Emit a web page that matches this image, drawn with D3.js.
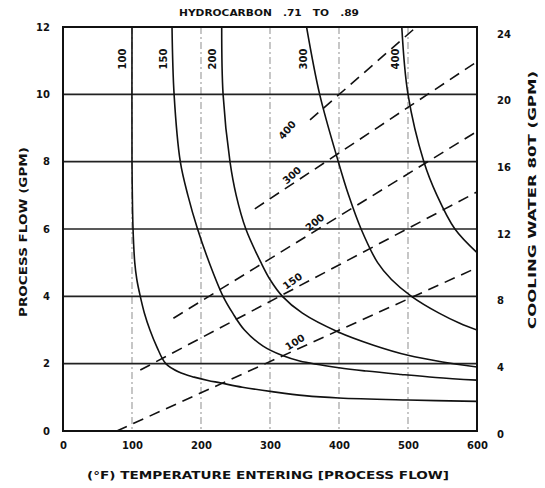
<!DOCTYPE html>
<html>
<head>
<meta charset="utf-8">
<script src="https://cdn.jsdelivr.net/npm/d3@7"></script>
<style>
  body { margin: 0; background: #fff; }
  text { font-family: 'DejaVu Sans', sans-serif; font-weight: bold; fill: #111; }
</style>
</head>
<body>
<svg id="chart" width="545" height="488"></svg>
<script>
// ticks and grid
var xTicks = [0, 100, 200, 300, 400, 500, 600];
var yTicks = [0, 2, 4, 6, 8, 10, 12];
var yRightTicks = [0, 4, 8, 12, 16, 20, 24];
var gridX = [100, 200, 300, 400, 500];
var gridY = [2, 4, 6, 8, 10];

// solid curves: [temperature, process flow]
var curveLabels = ['100', '150', '200', '300', '400'];
var curve100 = [[100, 12], [100, 8], [100.5, 7], [101.5, 6], [104, 5], [107, 4.5], [112, 4], [118, 3.5], [126, 3], [136, 2.5], [149, 2], [168, 1.75], [190, 1.6], [210, 1.5], [228, 1.43], [260, 1.3], [303, 1.17], [350, 1.05], [400, 0.98], [500, 0.92], [600, 0.88]];
var curve150 = [[158, 12], [161, 10], [170, 8], [181, 7], [195, 6], [212, 5], [232, 4], [246, 3.5], [263, 3], [290, 2.52], [318, 2.24], [343, 2.08], [400, 1.88], [440, 1.78], [490, 1.68], [540, 1.59], [600, 1.51]];
var curve200 = [[230, 12], [232, 10], [242, 8], [251, 7], [265, 6], [287, 5], [300, 4.5], [318, 4], [347, 3.5], [398, 2.95], [450, 2.55], [500, 2.25], [550, 2.05], [600, 1.9]];
var curve300 = [[353, 12], [372, 10], [399, 8], [414, 7], [432, 6], [456, 5], [476, 4.5], [505, 4], [545, 3.5], [575, 3.2], [600, 3.0]];
var curve400 = [[491, 12], [500, 10], [523, 8], [542, 7], [568, 6], [600, 5.3]];
var curves = [curve100, curve150, curve200, curve300, curve400];

// dashed lines: [temperature, process flow] end points
var dashLabels = ['100', '150', '200', '300', '400'];
var dash100 = [[78, 0], [600, 4.85]];
var dash150 = [[112, 1.81], [600, 7.1]];
var dash200 = [[160, 3.35], [600, 8.9]];
var dash300 = [[278, 6.6], [600, 10.97]];
var dash400 = [[358, 9.24], [512, 12]];
var dashes = [dash100, dash150, dash200, dash300, dash400];
var dashLabelX = [342, 339, 372, 339, 333];

var svg = d3.select('#chart');
var x = d3.scaleLinear().domain([0, 600]).range([63, 477]);
var y = d3.scaleLinear().domain([0, 12]).range([431, 27]);
var yR = d3.scaleLinear().domain([0, 24]).range([434, 34]);

svg.append('defs').append('clipPath').attr('id', 'plot')
  .append('rect').attr('x', 63).attr('y', 27).attr('width', 414).attr('height', 404);

// grid
svg.append('g').selectAll('line').data(gridX).enter().append('line')
  .attr('x1', function(d) { return x(d); }).attr('x2', function(d) { return x(d); })
  .attr('y1', y(12)).attr('y2', y(0))
  .style('stroke', '#999').style('stroke-width', 1.1).style('stroke-dasharray', '7,3,2,3');

svg.append('g').selectAll('line').data(gridY).enter().append('line')
  .attr('x1', x(0)).attr('x2', x(600))
  .attr('y1', function(d) { return y(d); }).attr('y2', function(d) { return y(d); })
  .style('stroke', '#222').style('stroke-width', 1.6);

var plot = svg.append('g').attr('clip-path', 'url(#plot)');

// solid curves
var line = d3.line()
  .x(function(d) { return x(d[0]); })
  .y(function(d) { return y(d[1]); })
  .curve(d3.curveCatmullRom.alpha(0.5));

plot.selectAll('path.curve').data(curves).enter().append('path')
  .attr('class', 'curve')
  .attr('d', line)
  .style('fill', 'none').style('stroke', '#111').style('stroke-width', 1.6);

function xAtY(pts, v) {
  for (var i = 0; i < pts.length - 1; i++) {
    var a = pts[i], b = pts[i + 1];
    if (a[1] >= v && b[1] <= v) {
      return a[0] + (b[0] - a[0]) * (a[1] - v) / (a[1] - b[1]);
    }
  }
  return pts[0][0];
}

svg.append('g').selectAll('text').data(curves).enter().append('text')
  .attr('transform', function(d) {
    return 'translate(' + (x(xAtY(d, 11)) - 10) + ',' + y(11.05) + ') rotate(-90)';
  })
  .attr('text-anchor', 'middle').attr('dy', '0.36em')
  .style('font-size', '10px')
  .text(function(d, i) { return curveLabels[i]; });

// dashed lines
var straight = d3.line()
  .x(function(d) { return x(d[0]); })
  .y(function(d) { return y(d[1]); });

plot.selectAll('path.dash').data(dashes).enter().append('path')
  .attr('class', 'dash')
  .attr('d', straight)
  .style('fill', 'none').style('stroke', '#111').style('stroke-width', 1.6)
  .style('stroke-dasharray', '11,7');

svg.append('g').selectAll('text').data(dashes).enter().append('text')
  .attr('transform', function(d, i) {
    var a = d[0], b = d[1];
    var xv = dashLabelX[i];
    var yv = a[1] + (b[1] - a[1]) * (xv - a[0]) / (b[0] - a[0]);
    var ang = Math.atan2(y(b[1]) - y(a[1]), x(b[0]) - x(a[0])) * 180 / Math.PI;
    return 'translate(' + x(xv) + ',' + y(yv) + ') rotate(' + (ang - 8) + ')';
  })
  .attr('text-anchor', 'middle').attr('y', -4)
  .style('font-size', '10px')
  .text(function(d, i) { return dashLabels[i]; });

// frame
svg.append('rect')
  .attr('x', x(0)).attr('y', y(12))
  .attr('width', x(600) - x(0)).attr('height', y(0) - y(12))
  .style('fill', 'none').style('stroke', '#111').style('stroke-width', 2);

// axes
var left = svg.append('g').attr('transform', 'translate(' + x(0) + ',0)')
  .call(d3.axisLeft(y).tickValues(yTicks).tickSize(0).tickPadding(13));
var bottom = svg.append('g').attr('transform', 'translate(0,' + y(0) + ')')
  .call(d3.axisBottom(x).tickValues(xTicks).tickSize(0).tickPadding(11));
var right = svg.append('g').attr('transform', 'translate(' + x(600) + ',0)')
  .call(d3.axisRight(yR).tickValues(yRightTicks).tickSize(0).tickPadding(20));

[left, bottom, right].forEach(function(g) {
  g.select('.domain').remove();
  g.selectAll('text').style('font-family', "'DejaVu Sans', sans-serif")
    .style('font-weight', 'bold').style('font-size', '10px').style('fill', '#111');
});

// titles
svg.append('text').attr('x', 269).attr('y', 16).attr('text-anchor', 'middle')
  .style('font-size', '9.5px').attr('xml:space', 'preserve')
  .attr('textLength', 180).attr('lengthAdjust', 'spacingAndGlyphs')
  .text('HYDROCARBON   .71   TO   .89');

svg.append('text').attr('transform', 'translate(23,232) rotate(-90)')
  .attr('text-anchor', 'middle').attr('dy', '0.35em')
  .style('font-size', '11px').attr('textLength', 170).attr('lengthAdjust', 'spacingAndGlyphs')
  .text('PROCESS FLOW (GPM)');

svg.append('text').attr('transform', 'translate(532,200) rotate(-90)')
  .attr('text-anchor', 'middle').attr('dy', '0.35em')
  .style('font-size', '11px').attr('textLength', 258).attr('lengthAdjust', 'spacingAndGlyphs')
  .text('COOLING WATER 80T (GPM)');

svg.append('text').attr('x', 268).attr('y', 479).attr('text-anchor', 'middle')
  .style('font-size', '11px').attr('textLength', 362).attr('lengthAdjust', 'spacingAndGlyphs')
  .text('(°F) TEMPERATURE ENTERING [PROCESS FLOW]');
</script>
</body>
</html>
